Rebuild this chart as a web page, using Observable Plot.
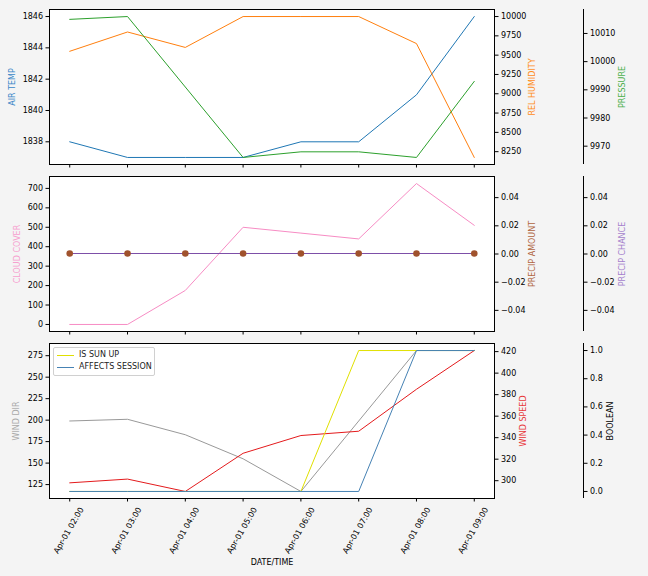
<!DOCTYPE html>
<html><head><meta charset="utf-8">
<script src="https://cdn.jsdelivr.net/npm/d3@7"></script>
<script src="https://cdn.jsdelivr.net/npm/@observablehq/plot@0.6"></script>
<style>
html,body{margin:0;padding:0;background:#f4f4f4;}
#fig{position:relative;width:648px;height:576px;overflow:hidden;font-family:"DejaVu Sans",sans-serif;}
#fig > svg{position:absolute;left:0;top:0;}
#legend{position:absolute;left:53px;top:347px;width:100px;height:27px;border:1px solid #d0d0d0;border-radius:2px;background:#ffffff;font-size:8px;color:#222;z-index:5;}
#legend .row{position:absolute;left:0;width:100px;height:12px;line-height:12px;}
#legend .sw{position:absolute;left:3px;top:6px;width:17px;height:1px;}
#legend .lb{position:absolute;left:25px;top:0;white-space:nowrap;}
</style></head><body><div id="fig"></div>
<script>
// ---- data ----
const hours = ["02:00","03:00","04:00","05:00","06:00","07:00","08:00","09:00"];
const airTemp = [1838,1837,1837,1837,1838,1838,1841,1846];
const relHumidity = [9550,9800,9600,10000,10000,10000,9650,8175];
const pressure = [10015,10016,9991,9966,9968,9968,9966,9993];
const cloudCover = [0,0,175,500,470,440,725,510];
const precipAmount = [0,0,0,0,0,0,0,0];
const precipChance = [0,0,0,0,0,0,0,0];
const windDir = [199,201,183,155,117,199,281,281];
const windSpeed = [298,301.5,290,325.5,342,346,385,421];
const isSunUp = [0,0,0,0,0,1,1,1];
const affectsSession = [0,0,0,0,0,0,1,1];

const ticksAirTemp = [1838,1840,1842,1844,1846];
const ticksHumidity = [8250,8500,8750,9000,9250,9500,9750,10000];
const ticksPressure = [9970,9980,9990,10000,10010];
const ticksCloud = [0,100,200,300,400,500,600,700];
const ticksPrecip = [-0.04,-0.02,0,0.02,0.04];
const ticksWindDir = [125,150,175,200,225,250,275];
const ticksWindSpeed = [300,320,340,360,380,400,420];
const ticksBool = [0,0.2,0.4,0.6,0.8,1.0];

const legendLabels = ["IS SUN UP", "AFFECTS SESSION"];
const legendColors = ["#e0e000", "#4682b4"];

const times = hours.map(h => new Date(Date.UTC(2023,3,1,+h.slice(0,2))));
const rows = (vals) => times.map((t,i) => ({t, v: vals[i]}));

// ---- layout ----
const W = 648, H = 576, ML = 49, MR = 154, MR3 = 65;
const panels = [{top:9, bottom:164},{top:176, bottom:331},{top:343, bottom:498}];
const HOUR = 3600e3;
const xDomain = [new Date(+times[0] - 0.35*HOUR), new Date(+times[times.length-1] + 0.35*HOUR)];
function pad(vals){
  let [a,b] = d3.extent(vals);
  if (a === b) { a -= 0.05; b += 0.05; }
  const m = (b-a)*0.05;
  return [a-m, b+m];
}
const fig = document.getElementById("fig");
function layer(p, {marginRight = MR, yDomain, marks, xAxis = false, yAxis = false}) {
  const svg = Plot.plot({
    width: W, height: H,
    marginLeft: ML, marginRight, marginTop: p.top, marginBottom: H - p.bottom,
    x: Object.assign({type: "utc", domain: xDomain}, xAxis ? {} : {axis: null}),
    y: Object.assign({domain: yDomain}, yAxis ? {} : {axis: null}),
    style: {background: "transparent", fontFamily: "DejaVu Sans", fontSize: "8px", color: "black", overflow: "visible"},
    marks
  });
  fig.appendChild(svg);
}
const tickOpts = {tickSize: 3.5, tickPadding: 3, label: null, stroke: "black", color: "black"};
const yLabel = (text, anchor, dx, fill) => Plot.text([text], {text: d => d, frameAnchor: anchor, rotate: -90, dx, fill, textAnchor: "middle", lineAnchor: "middle", fontSize: 8});
const fmtInt = d3.format("d");
const xTicksBlank = Plot.axisX(times, {...tickOpts, tickFormat: () => ""});

// ===== Panel 1 =====
const P1 = panels[0];
layer(P1, {yDomain: pad(airTemp), xAxis: true, yAxis: true, marks: [
  Plot.frame({fill: "white"}),
  Plot.lineY(rows(airTemp), {x: "t", y: "v", stroke: "#1f77b4", strokeWidth: 1}),
  Plot.frame({stroke: "black"}),
  xTicksBlank,
  Plot.axisY(ticksAirTemp, {...tickOpts, anchor: "left", tickFormat: fmtInt}),
  yLabel("AIR TEMP", "left", -37, "#3a87c8")
]});
layer(P1, {yDomain: pad(relHumidity), yAxis: true, marks: [
  Plot.lineY(rows(relHumidity), {x: "t", y: "v", stroke: "#ff7f0e", strokeWidth: 1}),
  Plot.axisY(ticksHumidity, {...tickOpts, anchor: "right", tickFormat: fmtInt}),
  yLabel("REL HUMIDITY", "right", 38, "#ff8c1a")
]});
layer(P1, {yDomain: pad(pressure), marks: [
  Plot.lineY(rows(pressure), {x: "t", y: "v", stroke: "#2ca02c", strokeWidth: 1})
]});
layer(P1, {yDomain: pad(pressure), marginRight: MR3, yAxis: true, marks: [
  Plot.ruleX([xDomain[1]], {stroke: "black"}),
  Plot.axisY(ticksPressure, {...tickOpts, anchor: "right", tickFormat: fmtInt}),
  yLabel("PRESSURE", "right", 38.5, "#4cb04c")
]});

// ===== Panel 2 =====
const P2 = panels[1];
layer(P2, {yDomain: pad(cloudCover), xAxis: true, yAxis: true, marks: [
  Plot.frame({fill: "white"}),
  Plot.lineY(rows(cloudCover), {x: "t", y: "v", stroke: "#f78cc4", strokeWidth: 1}),
  Plot.frame({stroke: "black"}),
  xTicksBlank,
  Plot.axisY(ticksCloud, {...tickOpts, anchor: "left", tickFormat: fmtInt}),
  yLabel("CLOUD COVER", "left", -32.5, "#f7a0cf")
]});
layer(P2, {yDomain: pad(precipChance), marks: [
  Plot.lineY(rows(precipChance), {x: "t", y: "v", stroke: "#7d4fa8", strokeWidth: 1, dy: -0.5})
]});
layer(P2, {yDomain: pad(precipAmount), yAxis: true, marks: [
  Plot.dot(rows(precipAmount), {x: "t", y: "v", r: 3.3, fill: "#a0522d", stroke: "none", dy: -0.5}),
  Plot.axisY(ticksPrecip, {...tickOpts, anchor: "right", tickFormat: d3.format(".2f")}),
  yLabel("PRECIP AMOUNT", "right", 37.5, "#b0653f")
]});
layer(P2, {yDomain: pad(precipChance), marginRight: MR3, yAxis: true, marks: [
  Plot.ruleX([xDomain[1]], {stroke: "black"}),
  Plot.axisY(ticksPrecip, {...tickOpts, anchor: "right", tickFormat: d3.format(".2f")}),
  yLabel("PRECIP CHANCE", "right", 38.5, "#a47fcc")
]});

// ===== Panel 3 =====
const P3 = panels[2];
const fmtTime = d3.utcFormat("%b-%d %H:%M");
layer(P3, {yDomain: pad(windDir), xAxis: true, yAxis: true, marks: [
  Plot.frame({fill: "white"}),
  Plot.lineY(rows(windDir), {x: "t", y: "v", stroke: "#999999", strokeWidth: 1}),
  Plot.frame({stroke: "black"}),
  Plot.axisX(times, {...tickOpts, tickFormat: () => ""}),
  Plot.text(times, {x: d => d, text: d => fmtTime(d), frameAnchor: "bottom", rotate: -60, textAnchor: "end", lineAnchor: "middle", dx: 12, dy: 9.5, fontSize: 8, fill: "black"}),
  Plot.text(["DATE/TIME"], {text: d => d, frameAnchor: "bottom", dy: 64, fontSize: 8, fill: "black", lineAnchor: "middle"}),
  Plot.axisY(ticksWindDir, {...tickOpts, anchor: "left", tickFormat: fmtInt}),
  yLabel("WIND DIR", "left", -33, "#aaaaaa")
]});
layer(P3, {yDomain: pad(windSpeed), yAxis: true, marks: [
  Plot.lineY(rows(windSpeed), {x: "t", y: "v", stroke: "#e41a1c", strokeWidth: 1}),
  Plot.axisY(ticksWindSpeed, {...tickOpts, anchor: "right", tickFormat: fmtInt}),
  yLabel("WIND SPEED", "right", 28.5, "#e8383a")
]});
layer(P3, {yDomain: pad([0,1]), marginRight: MR3, yAxis: true, marks: [
  Plot.ruleX([xDomain[1]], {stroke: "black"}),
  Plot.axisY(ticksBool, {...tickOpts, anchor: "right", tickFormat: d3.format(".1f")}),
  yLabel("BOOLEAN", "right", 26.5, "black")
]});
layer(P3, {yDomain: pad([0,1]), marks: [
  Plot.lineY(rows(isSunUp), {x: "t", y: "v", stroke: legendColors[0], strokeWidth: 1}),
  Plot.lineY(rows(affectsSession), {x: "t", y: "v", stroke: legendColors[1], strokeWidth: 1})
]});

// legend
const lg = document.createElement("div");
lg.id = "legend";
legendLabels.forEach((label, i) => {
  const r = document.createElement("div");
  r.className = "row";
  r.style.top = (1 + i*12) + "px";
  const sw = document.createElement("div");
  sw.className = "sw";
  sw.style.backgroundColor = legendColors[i];
  const lb = document.createElement("span");
  lb.className = "lb";
  lb.textContent = label;
  r.appendChild(sw);
  r.appendChild(lb);
  lg.appendChild(r);
});
fig.appendChild(lg);
</script>
</body></html>
